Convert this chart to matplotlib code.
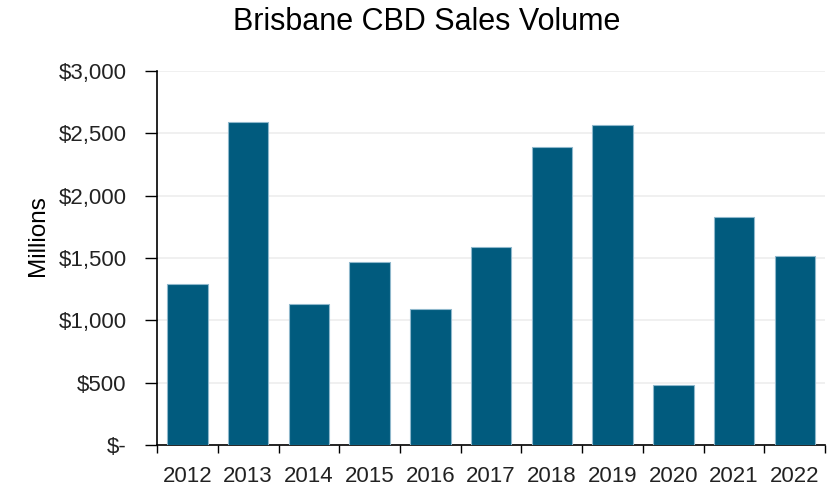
import numpy as np
import matplotlib
matplotlib.use('Agg')
import matplotlib.pyplot as plt
from matplotlib.ticker import FuncFormatter

plt.rcParams['font.family'] = ['Liberation Sans', 'DejaVu Sans']

years = ['2012', '2013', '2014', '2015', '2016', '2017', '2018', '2019', '2020', '2021', '2022']
sales = [1290, 2587, 1129, 1469, 1091, 1587, 2389, 2568, 479, 1827, 1514]
y_ticks = [0, 500, 1000, 1500, 2000, 2500, 3000]


def money(v, pos):
    if v == 0:
        return '$-'
    return '${:,.0f}'.format(v)


fig = plt.figure(figsize=(8.31, 4.91), dpi=100)
ax = fig.add_axes([0.189, 0.0937, 0.804, 0.7617])

x = np.arange(len(years))
ax.bar(x, sales, width=0.667, color='#015b7e', edgecolor='#8fb8cc', linewidth=0.8, zorder=3)

ax.set_xlim(-0.5, len(years) - 0.5)
ax.set_ylim(0, 3000)

# category labels sit between the tick marks
ax.set_xticks(np.arange(-0.5, len(years)), minor=False)
ax.set_xticklabels([])
ax.set_xticks(x, minor=True)
ax.set_xticklabels(years, minor=True, fontsize=16, color='#222222')
ax.tick_params(axis='x', which='minor', length=0, pad=15)
ax.tick_params(axis='x', which='major', length=6, width=1, direction='out', color='black')

ax.set_yticks(y_ticks)
ax.yaxis.set_major_formatter(FuncFormatter(money))
ax.tick_params(axis='y', length=9, width=1, direction='out', pad=13, labelsize=16, labelcolor='#222222')

ax.grid(axis='y', color='#eeeeee', linewidth=1.2, zorder=0)
for s in ['top', 'right']:
    ax.spines[s].set_visible(False)
for s in ['left', 'bottom']:
    ax.spines[s].set_linewidth(1.2)
    ax.spines[s].set_color('black')

ax.set_ylabel('Millions', fontsize=17.5)
ax.yaxis.set_label_coords(-0.162, 0.56)
fig.suptitle('Brisbane CBD Sales Volume', fontsize=22, x=0.513, y=0.985)

fig.savefig('out.png', dpi=100)
